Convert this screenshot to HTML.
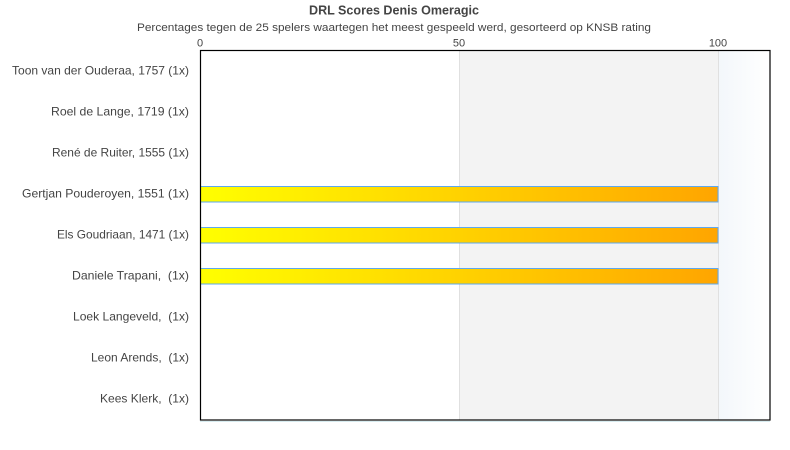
<!DOCTYPE html>
<html><head><meta charset="utf-8"><style>
html,body{margin:0;padding:0;background:#fff;}
svg{display:block;}
text{font-family:"Liberation Sans","DejaVu Sans",sans-serif;fill:#444;}
</style></head><body>
<svg width="790" height="450" xmlns="http://www.w3.org/2000/svg">
<defs>
<linearGradient id="bar" x1="200" y1="0" x2="718" y2="0" gradientUnits="userSpaceOnUse">
<stop offset="0" stop-color="#ffff00"/><stop offset="1" stop-color="#ffa500"/>
</linearGradient>
<linearGradient id="blu" x1="0" y1="0" x2="1" y2="0">
<stop offset="0" stop-color="#f3f7fb"/><stop offset="1" stop-color="#ffffff"/>
</linearGradient>
</defs>
<rect x="0" y="0" width="790" height="450" fill="#fff"/>
<rect x="459" y="50" width="259" height="370" fill="#f3f3f3"/>
<rect x="718" y="50" width="52" height="370" fill="url(#blu)"/>
<line x1="459.5" y1="50" x2="459.5" y2="420" stroke="#e0e0e0" stroke-width="1"/>
<line x1="718.5" y1="50" x2="718.5" y2="420" stroke="#e0e0e0" stroke-width="1"/>
<line x1="200" y1="421.5" x2="770" y2="421.5" stroke="#d8ecf0" stroke-width="1"/>

<rect x="200.5" y="186.5" width="517.5" height="15.5" fill="url(#bar)" stroke="#5ea8ee" stroke-width="1"/>
<rect x="200.5" y="227.5" width="517.5" height="15.5" fill="url(#bar)" stroke="#5ea8ee" stroke-width="1"/>
<rect x="200.5" y="268.5" width="517.5" height="15.5" fill="url(#bar)" stroke="#5ea8ee" stroke-width="1"/>

<rect x="200.5" y="50.5" width="569.5" height="369.5" fill="none" stroke="#000" stroke-width="1.2"/>

<text x="394" y="14.5" text-anchor="middle" font-size="13" font-weight="bold" fill="#555" textLength="170" lengthAdjust="spacingAndGlyphs">DRL Scores Denis Omeragic</text>
<text x="394" y="31" text-anchor="middle" font-size="11" textLength="514" lengthAdjust="spacingAndGlyphs">Percentages tegen de 25 spelers waartegen het meest gespeeld werd, gesorteerd op KNSB rating</text>
<text x="200" y="46.5" text-anchor="middle" font-size="11">0</text>
<text x="459" y="46.5" text-anchor="middle" font-size="11">50</text>
<text x="718" y="46.5" text-anchor="middle" font-size="11">100</text>

<g font-size="12" text-anchor="end">
<text x="189" y="74.5" textLength="177" lengthAdjust="spacingAndGlyphs">Toon van der Ouderaa, 1757 (1x)</text>
<text x="189" y="115.5" textLength="138" lengthAdjust="spacingAndGlyphs">Roel de Lange, 1719 (1x)</text>
<text x="189" y="156.5" textLength="137" lengthAdjust="spacingAndGlyphs">René de Ruiter, 1555 (1x)</text>
<text x="189" y="197.5" textLength="167" lengthAdjust="spacingAndGlyphs">Gertjan Pouderoyen, 1551 (1x)</text>
<text x="189" y="238.5" textLength="132" lengthAdjust="spacingAndGlyphs">Els Goudriaan, 1471 (1x)</text>
<text x="189" y="279.5" textLength="117" lengthAdjust="spacingAndGlyphs">Daniele Trapani,&#160; (1x)</text>
<text x="189" y="320.5" textLength="116" lengthAdjust="spacingAndGlyphs">Loek Langeveld,&#160; (1x)</text>
<text x="189" y="361.5" textLength="98" lengthAdjust="spacingAndGlyphs">Leon Arends,&#160; (1x)</text>
<text x="189" y="402.5" textLength="89" lengthAdjust="spacingAndGlyphs">Kees Klerk,&#160; (1x)</text>
</g>
</svg>
</body></html>
